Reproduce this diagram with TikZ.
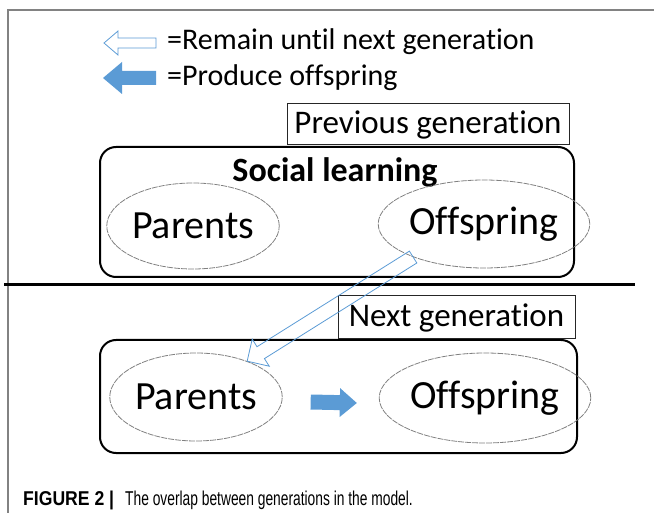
\documentclass[tikz,border=0pt]{standalone}
\usepackage{fontspec}
\usepackage{graphicx}
\setmainfont{Carlito}[Ligatures={NoCommon}]
\newfontfamily\capfont{Liberation Sans}
\usetikzlibrary{shapes.geometric,calc}
\definecolor{officeblue}{RGB}{91,155,213}
\definecolor{framegray}{RGB}{130,130,130}
\newcommand{\fs}[1]{\fontsize{#1}{#1}\selectfont}
\begin{document}
\begin{tikzpicture}[x=1pt,y=-1pt,
  genbox/.style={draw=black, line width=2pt, rounded corners=16pt, inner sep=0pt},
  tagbox/.style={draw=black!85, line width=1pt, inner sep=0pt, font=\fs{33}},
  member/.style={ellipse, draw=black!50, line width=0.8pt, dash pattern=on 6pt off 1pt, inner sep=0pt, font=\fs{40}},
  legendtext/.style={anchor=west, inner sep=0pt, font=\fs{30}},
  hollowarrow/.style={draw=officeblue, line width=0.8pt},
  solidarrow/.style={fill=officeblue}]
\useasboundingbox (0,0) rectangle (654,513);

% page frame
\draw[framegray, line width=1.5pt] (8,513) -- (8,10) -- (654,10);

% legend
\draw[hollowarrow, fill=white] (104,43) -- (118,31) -- (118,38) -- (156,38) -- (156,48) -- (118,48) -- (118,55) -- cycle;
\fill[solidarrow] (103,78) -- (122,62) -- (122,71) -- (156,71) -- (156,85) -- (122,85) -- (122,94) -- cycle;
\node[legendtext] (leg1) at (167,42) {=Remain until next generation};
\node[legendtext] (leg2) at (167,78) {=Produce offspring};

% previous generation
\node[genbox, minimum width=474pt, minimum height=130pt] (prevbox) at (337,212) {};
\node[tagbox, minimum width=282pt, minimum height=41pt] (prevtag) at (428,124.5) {Previous generation};
\node[inner sep=0pt, font=\bfseries\fs{34}] (social) at (335,172) {Social learning};
\node[member, minimum width=148pt, minimum height=86pt] (p1) at (193,226) {Parents};
\node[member, minimum width=168pt, minimum height=88pt] (o1) at (484,224) {Offspring};

% generation divider
\draw[line width=3pt] (4,285) -- (635,285);

% next generation
\node[genbox, minimum width=477pt, minimum height=113pt] (nextbox) at (338.5,396.5) {};
\node[tagbox, minimum width=237pt, minimum height=43pt] (nexttag) at (456.5,317.5) {Next generation};
\node[member, minimum width=148pt, minimum height=88pt] (p2) at (196,397) {Parents};
\node[member, minimum width=166pt, minimum height=90pt] (o2) at (485,398) {Offspring};

% offspring remain until the next generation
\coordinate (ta) at (o1.205);
\coordinate (tb) at (p2.35);
\coordinate (th) at ($(tb)!16pt!(ta)$);
\draw[hollowarrow] ($(ta)!7pt!90:(tb)$) -- ($(th)!7pt!90:(tb)$) -- ($(th)!16pt!90:(tb)$)
  -- (tb) -- ($(th)!16pt!-90:(tb)$) -- ($(th)!7pt!-90:(tb)$) -- ($(ta)!7pt!-90:(tb)$) -- cycle;

% parents produce offspring
\coordinate (fa) at ($(p2.east)+(28,5)$);
\coordinate (fb) at ($(o2.west)+(-22,5)$);
\coordinate (fh) at ($(fb)!17pt!(fa)$);
\fill[solidarrow] ($(fa)!7.5pt!90:(fb)$) -- ($(fh)!7.5pt!90:(fb)$) -- ($(fh)!14.5pt!90:(fb)$)
  -- (fb) -- ($(fh)!14.5pt!-90:(fb)$) -- ($(fh)!7.5pt!-90:(fb)$) -- ($(fa)!7.5pt!-90:(fb)$) -- cycle;

% caption
\node[anchor=west, inner sep=0pt, font=\capfont\bfseries\fs{20}] (figlabel) at (23,500) {\scalebox{0.88}[1]{FIGURE 2 |}};
\node[anchor=west, inner sep=0pt, font=\capfont\fs{20}] (figtext) at (125,500) {\scalebox{0.69}[1]{The overlap between generations in the model.}};
\end{tikzpicture}
\end{document}
